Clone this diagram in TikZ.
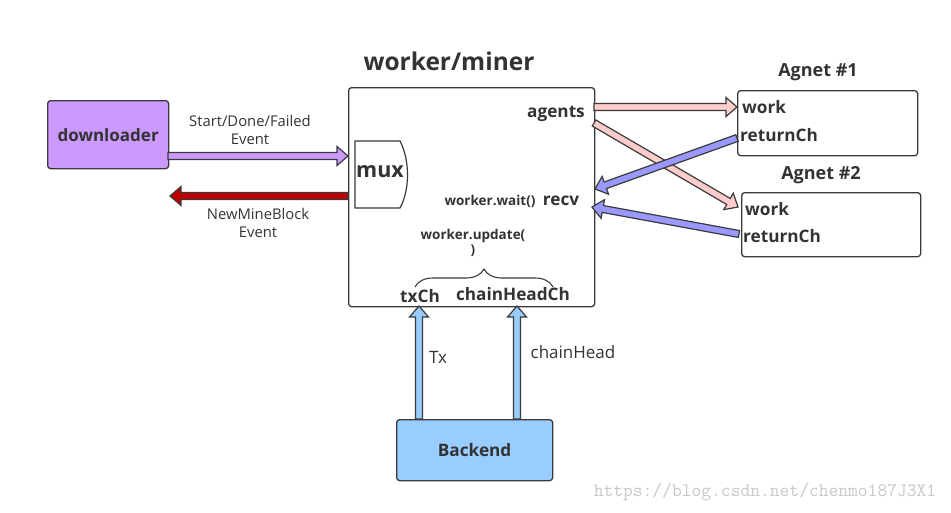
\documentclass[tikz,border=0pt]{standalone}
\usepackage{fontspec}
\setmainfont{Open Sans}
\usetikzlibrary{positioning,calc,decorations.pathreplacing}

\definecolor{txt}{HTML}{333333}
\definecolor{edge}{HTML}{3A3A3A}
\definecolor{dlpurple}{HTML}{CC99FF}
\definecolor{bkblue}{HTML}{99CCFF}
\definecolor{workpink}{HTML}{FFCCCC}
\definecolor{retblue}{HTML}{9999FF}
\definecolor{minered}{HTML}{C00000}

\tikzset{
  box/.style={draw=edge, line width=1.3pt, rounded corners=3pt, anchor=north west, inner sep=0pt},
  lbl/.style={font=\bfseries\fontsize{17.2}{20}\selectfont, text=txt, inner sep=0pt},
  smalllbl/.style={font=\bfseries\fontsize{13.5}{16}\selectfont, text=txt, inner sep=0pt},
  plain/.style={font=\fontsize{14.8}{18}\selectfont, text=txt, align=center, inner sep=0pt},
  fatarrow/.style={draw=edge, line width=1.2pt, fill=#1, to path={
    ($(\tikztostart)!3.5pt!90:(\tikztotarget)$)
    -- ($($(\tikztotarget)!11pt!(\tikztostart)$)!3.5pt!90:(\tikztotarget)$)
    -- ($($(\tikztotarget)!11pt!(\tikztostart)$)!9.5pt!90:(\tikztotarget)$)
    -- (\tikztotarget)
    -- ($($(\tikztotarget)!11pt!(\tikztostart)$)!9.5pt!-90:(\tikztotarget)$)
    -- ($($(\tikztotarget)!11pt!(\tikztostart)$)!3.5pt!-90:(\tikztotarget)$)
    -- ($(\tikztostart)!3.5pt!-90:(\tikztotarget)$)
    -- cycle}}
}

\begin{document}
\begin{tikzpicture}[x=1pt, y=-1pt]
    \useasboundingbox (0,0) rectangle (951,512);

    % worker/miner
    \node[font=\bfseries\fontsize{24.5}{28}\selectfont, text=txt] (minertitle) at (449,61) {worker/miner};
    \node[box, minimum width=246pt, minimum height=219pt] (miner) at (348,87) {};
    \draw[draw=edge, line width=1.2pt, fill=white] (355,141) -- (400,141)
        .. controls (410,160) and (410,190) .. (400,208) -- (355,208) -- cycle;
    \node[font=\bfseries\fontsize{21.5}{25}\selectfont, text=txt, inner sep=0pt] (mux) at (380,172) {mux};
    \node[lbl] (agents) at (556,114) {agents};
    \node[smalllbl] (wait) at (490,201) {worker.wait()};
    \node[lbl] (recv) at (561,201) {recv};
    \node[smalllbl] (update) at (473,236) {worker.update(};
    \node[smalllbl, below=2pt of update] (paren) {)};
    \draw[draw=edge, line width=1.1pt, decorate, decoration={brace, amplitude=18pt}] (415,287) -- (553,287);
    \node[lbl] (txch) at (420,296) {txCh};
    \node[lbl] (headch) at (513,294) {chainHeadCh};

    % downloader
    \node[box, fill=dlpurple, minimum width=121pt, minimum height=68pt] (dl) at (47,100) {};
    \node[font=\bfseries\fontsize{17}{20}\selectfont, text=txt] at (dl.center) {downloader};
    \coordinate (dlout) at (168,156);
    \coordinate (muxin) at (348,156);
    \draw[fatarrow=dlpurple] (dlout) to (muxin);
    \node[plain] (evt) at (250,130) {Start/Done/Failed\\Event};
    \coordinate (mineout) at (348,196);
    \coordinate (minetip) at (170,196);
    \draw[fatarrow=minered] (mineout) to (minetip);
    \node[plain] (newblock) at (258,223) {NewMineBlock\\Event};

    % agents
    \node[box, minimum width=180pt, minimum height=65pt] (agent1) at (737,90) {};
    \node[box, minimum width=179pt, minimum height=64pt] (agent2) at (741,192) {};
    \node[lbl, font=\bfseries\fontsize{18}{21}\selectfont] at (818,72) {Agnet \#1};
    \node[lbl, font=\bfseries\fontsize{18}{21}\selectfont] at (821,175) {Agnet \#2};
    \node[lbl, anchor=west] (work1) at (742,107) {work};
    \node[lbl, anchor=west] (ret1) at (740,135) {returnCh};
    \node[lbl, anchor=west] (work2) at (745,209) {work};
    \node[lbl, anchor=west] (ret2) at (743,236) {returnCh};

    \coordinate (ag1) at (594,107);
    \coordinate (ag2) at (594,123);
    \coordinate (w1in) at (737,107);
    \coordinate (w2in) at (738,207);
    \coordinate (r1out) at (737,138);
    \coordinate (r2out) at (739,234);
    \coordinate (recv1) at (595,189);
    \coordinate (recv2) at (592,207);
    \draw[fatarrow=workpink] (ag1) to (w1in);
    \draw[fatarrow=workpink] (ag2) to (w2in);
    \draw[fatarrow=retblue] (r1out) to (recv1);
    \draw[fatarrow=retblue] (r2out) to (recv2);

    % Backend
    \node[box, fill=bkblue, minimum width=156pt, minimum height=61pt] (backend) at (396,419) {};
    \node[lbl] at (backend.center) {Backend};
    \coordinate (txout) at (419,419);
    \coordinate (txin) at (419,306);
    \coordinate (headout) at (517,419);
    \coordinate (headin) at (517,306);
    \draw[fatarrow=bkblue] (txout) to (txin);
    \draw[fatarrow=bkblue] (headout) to (headin);
    \node[plain, font=\fontsize{17}{20}\selectfont] (tx) at (438,357) {Tx};
    \node[plain, font=\fontsize{17}{20}\selectfont] (head) at (573,352) {chainHead};

    \node[font=\ttfamily\fontsize{19}{22}\selectfont, text=black!22] (url) at (765,492) {https://blog.csdn.net/chenmo187J3X1};
\end{tikzpicture}
\end{document}
